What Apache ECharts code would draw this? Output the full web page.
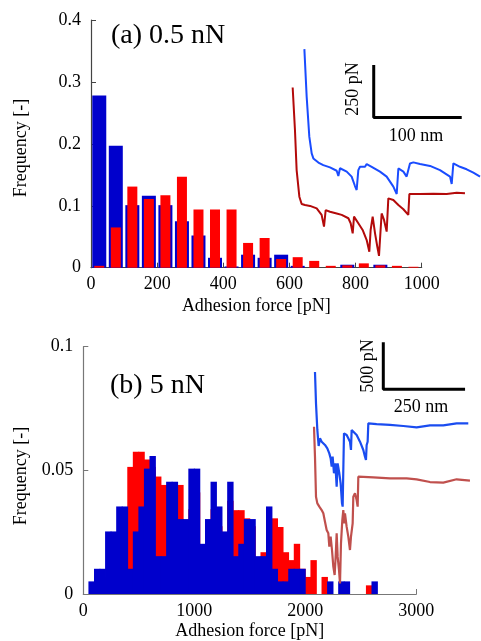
<!DOCTYPE html>
<html><head><meta charset="utf-8">
<script src="https://cdn.jsdelivr.net/npm/echarts/dist/echarts.min.js"></script>
<style>html,body{margin:0;padding:0;background:#fff}#c{width:481px;height:641px}</style>
</head><body><div id="c"></div>
<script>
// ---------- (a) 0.5 nN histogram ----------
const topBinCenters = [25,75,125,175,225,275,325,375,425,475,525,575,625,675,725,775,825,875,925,975];
const topBlueFreq = [0.278,0.197,0.101,0.116,0.101,0.075,0.052,0.016,0.002,0.021,0.016,0.021,0.003,0,0,0.0048,0,0.0048,0,0];
const topRedFreq  = [0.003,0.065,0.131,0.111,0.117,0.147,0.094,0.094,0.094,0.040,0.048,0.014,0.017,0.011,0.003,0.0038,0.007,0.0038,0.003,0.0015];
const topXTicks = [0,200,400,600,800,1000];
const topYTicks = [0,0.1,0.2,0.3,0.4];

// ---------- (b) 5 nN histogram ----------
const botBinCenters = [25,75,125,175,225,275,325,375,425,475,525,575,625,675,725,775,825,875,925,975,
  1025,1075,1125,1175,1225,1275,1325,1375,1425,1475,1525,1575,1625,1675,1725,1775,1825,1875,1925,1975,
  2025,2075,2125,2175,2225,2275,2325,2375,2425,2475,2525,2575,2625,2675];
const botBlueFreq = [0,0.0051,0.0102,0.0102,0.0253,0.0253,0.0354,0.0354,0.0102,0.0253,
  0.0354,0.0507,0.0558,0.0153,0.0153,0.0454,0.0454,0.0303,0.0303,0.0507,
  0.0507,0.0203,0.0303,0.0454,0.0354,0.0253,0.0454,0.0153,0.0203,0.0303,
  0.0303,0.0153,0.0153,0.0354,0.0102,0.0051,0.0051,0.0102,0.0102,0.0102,
  0,0,0,0,0.0051,0,0.0051,0.0051,0,0,0,0,0.0051,0];
const botRedFreq = [0,0,0.0035,0.0035,0.0069,0.0137,0.0206,0.0274,0.0514,0.0575,
  0.0575,0.0544,0.0514,0.0475,0.0441,0.0411,0.0377,0.0441,0.0274,0.0343,
  0.0411,0.0137,0.0240,0.0343,0.0274,0.0206,0.0377,0.0339,0.0339,0.0306,
  0.0274,0.0137,0.0169,0.0240,0.0306,0.0271,0.0169,0.0137,0.0203,0.0102,
  0.0069,0.0137,0,0.0069,0,0,0,0,0,0,0,0.0035,0,0];
const botXTicks = [0,1000,2000,3000];
const botYTicks = [0,0.05,0.1];

// ---------- inset (a): force curves, nm / pN ----------
const aBlueNm = [27.7,30.3,33.3,36.0,37.9,43.6,49.2,56.8,64.4,66.3,68.2,75.8,81.4,85.2,87.1,89.0,90.9,96.6,98.5,104.2,113.6,121.2,128.8,132.6,134.5,136.4,140.2,143.9,145.8,147.7,151.5,159.1,170.5,181.8,193.2,195.1,197.0,204.5,212.1,219.7,227.3];
const aBluePn = [1103,876,685,605,581,561,549,538,522,497,534,518,494,449,430,525,541,541,554,541,518,494,446,411,533,537,518,494,486,557,562,554,545,525,494,459,557,541,529,513,494];
const aRedNm = [14.4,17.0,18.9,22.0,24.6,28.4,34.1,41.7,47.3,50.0,51.9,56.8,64.4,70.1,77.7,80.3,82.6,84.1,89.0,93.9,98.5,101.5,103.0,105.3,108.0,110.6,112.5,113.6,115.5,118.2,121.2,123.1,128.8,134.5,140.2,145.8,147.0,159.1,174.2,189.4,200.8,210.2];
const aRedPn = [920,717,525,398,363,358,354,342,311,255,334,326,318,311,295,271,223,303,271,239,191,135,239,303,223,159,115,191,318,287,231,390,382,358,338,311,411,411,412,411,417,414];
const aBarNm = [106.5,106.5,206.5];
const aBarPn = [1027,777,777];

// ---------- inset (b): force curves, nm / pN ----------
const bBlueNm = [76.4,79.5,83.6,87.6,91.7,96.8,101.9,107.0,114.1,120.2,124.3,127.4,130.4,134.5,138.6,142.7,145.7,150.8,154.9,159.0,161.0,163.0,165.1,168.1,173.2,178.3,183.4,186.5,188.5,193.6,203.8,214.0,224.2,229.3,232.3,234.4,237.4,239.5,264.9,305.7,346.5,387.2,428.0,468.7,509.5,545.2];
const bBluePn = [2426,2092,1809,1638,1720,1684,1702,1649,1613,1560,1507,1418,1525,1348,1454,1206,1454,1348,1241,1028,993,1383,1773,1791,1755,1720,1684,1596,1809,1826,1755,1684,1596,1525,1489,1649,1684,1879,1872,1862,1851,1837,1858,1858,1879,1879];
const bRedNm = [73.4,76.4,79.5,83.6,89.7,96.8,101.9,107.0,112.1,117.2,120.2,124.3,128.4,132.5,136.5,139.6,142.7,145.7,149.8,152.9,155.9,160.0,163.0,166.1,168.1,173.2,178.3,183.4,186.5,191.6,193.6,198.7,203.8,206.9,208.9,254.8,305.7,356.7,387.2,428.0,468.7,509.5,550.3];
const bRedPn = [1844,1525,1099,1028,993,957,922,833,745,709,567,674,532,355,266,461,709,461,319,177,603,851,957,816,922,780,674,532,674,816,1099,1135,1064,993,1312,1305,1294,1294,1284,1255,1248,1284,1270];
const bBarNm = [285.3,285.3,535.3];
const bBarPn = [2741,2241,2241];

const zip = (a, b) => a.map((v, i) => [v, b[i]]);
const SERIF = "'Liberation Serif','DejaVu Serif',serif";
const BLUE = '#0000cc', RED = '#ff0000';
const plain = v => String(v);

function mainX(grid, min, max, ticks, show, gap, color) {
  return {
    gridIndex: grid, type: 'value', min: min, max: max, interval: ticks[1] - ticks[0], show: show,
    name: 'Adhesion force [pN]', nameLocation: 'middle', nameGap: gap,
    nameTextStyle: { fontFamily: SERIF, fontSize: 18, color: '#000' },
    axisLine: { show: true, lineStyle: { color: color, width: 1.2 } },
    axisTick: { show: true, inside: true, length: 5, lineStyle: { color: color } },
    axisLabel: { fontFamily: SERIF, fontSize: 18, color: '#000', margin: 8, formatter: plain },
    splitLine: { show: false }
  };
}
function mainY(grid, min, max, ticks, color) {
  return {
    gridIndex: grid, type: 'value', min: min, max: max, interval: ticks[1] - ticks[0],
    axisLine: { show: true, lineStyle: { color: color, width: 1.2 } },
    axisTick: { show: true, inside: true, length: 5, lineStyle: { color: color } },
    axisLabel: { fontFamily: SERIF, fontSize: 18, color: '#000', margin: 10, formatter: plain },
    splitLine: { show: false }
  };
}
function hiddenAxis(grid, min, max) {
  return { gridIndex: grid, type: 'value', min: min, max: max, show: false, splitLine: { show: false } };
}
function curve(xi, yi, data, color, w) {
  return { type: 'line', xAxisIndex: xi, yAxisIndex: yi, data: data, showSymbol: false, symbol: 'none',
    lineStyle: { color: color, width: w }, silent: true, z: 5 };
}

const chart = echarts.init(document.getElementById('c'), null, { renderer: 'canvas' });
chart.setOption({
  animation: false,
  textStyle: { fontFamily: SERIF },
  grid: [
    { left: 91, top: 20, width: 330.7, height: 247.7 },
    { left: 280, top: 30, width: 200, height: 250 },
    { left: 83.3, top: 346.7, width: 333, height: 248.8 },
    { left: 290, top: 330, width: 190, height: 270 }
  ],
  xAxis: [
    mainX(0, 0, 1000, topXTicks, true, 30, '#444'),
    hiddenAxis(0, 0, 1000),
    hiddenAxis(1, 0, 227.27),
    mainX(2, 0, 3000, botXTicks, true, 28, '#777'),
    hiddenAxis(2, 0, 3000),
    hiddenAxis(3, 0, 581.0)
  ],
  yAxis: [
    mainY(0, 0, 0.4, topYTicks, '#444'),
    hiddenAxis(1, 0, 1194.5),
    mainY(2, 0, 0.1, botYTicks, '#777'),
    hiddenAxis(3, 0, 2872.3)
  ],
  series: [
    { type: 'bar', xAxisIndex: 0, yAxisIndex: 0, barWidth: 14, data: zip(topBinCenters, topBlueFreq),
      itemStyle: { color: BLUE }, z: 2 },
    { type: 'bar', xAxisIndex: 1, yAxisIndex: 0, barWidth: 10, data: zip(topBinCenters, topRedFreq),
      itemStyle: { color: RED }, z: 3 },
    { type: 'bar', xAxisIndex: 4, yAxisIndex: 2, barWidth: 6.4, data: zip(botBinCenters, botRedFreq),
      itemStyle: { color: RED }, z: 2 },
    { type: 'bar', xAxisIndex: 3, yAxisIndex: 2, barWidth: 6.4, data: zip(botBinCenters, botBlueFreq),
      itemStyle: { color: BLUE }, z: 3 },
    curve(2, 1, zip(aBlueNm, aBluePn), '#1a4cff', 2),
    curve(2, 1, zip(aRedNm, aRedPn), '#b30a0a', 2),
    curve(2, 1, zip(aBarNm, aBarPn), '#000', 3),
    curve(5, 3, zip(bBlueNm, bBluePn), '#1a4cf0', 2.2),
    curve(5, 3, zip(bRedNm, bRedPn), '#c0504d', 2.2),
    curve(5, 3, zip(bBarNm, bBarPn), '#000', 3)
  ],
  graphic: [
    { type: 'text', x: 111, y: 36, style: { text: '(a) 0.5 nN', font: "28px " + SERIF, fill: '#000', align: 'left', verticalAlign: 'middle' } },
    { type: 'text', x: 110, y: 386, style: { text: '(b) 5 nN', font: "28px " + SERIF, fill: '#000', align: 'left', verticalAlign: 'middle' } },
    { type: 'text', x: 353, y: 89, rotation: Math.PI / 2, style: { text: '250 pN', font: "18px " + SERIF, fill: '#000', align: 'center', verticalAlign: 'middle' } },
    { type: 'text', x: 416, y: 136, style: { text: '100 nm', font: "18px " + SERIF, fill: '#000', align: 'center', verticalAlign: 'middle' } },
    { type: 'text', x: 368, y: 366, rotation: Math.PI / 2, style: { text: '500 pN', font: "18px " + SERIF, fill: '#000', align: 'center', verticalAlign: 'middle' } },
    { type: 'text', x: 421, y: 407, style: { text: '250 nm', font: "18px " + SERIF, fill: '#000', align: 'center', verticalAlign: 'middle' } },
    { type: 'text', x: 21, y: 148, rotation: Math.PI / 2, style: { text: 'Frequency [-]', font: "18px " + SERIF, fill: '#000', align: 'center', verticalAlign: 'middle' } },
    { type: 'text', x: 21, y: 476, rotation: Math.PI / 2, style: { text: 'Frequency [-]', font: "18px " + SERIF, fill: '#000', align: 'center', verticalAlign: 'middle' } }
  ]
});
</script>
</body></html>
